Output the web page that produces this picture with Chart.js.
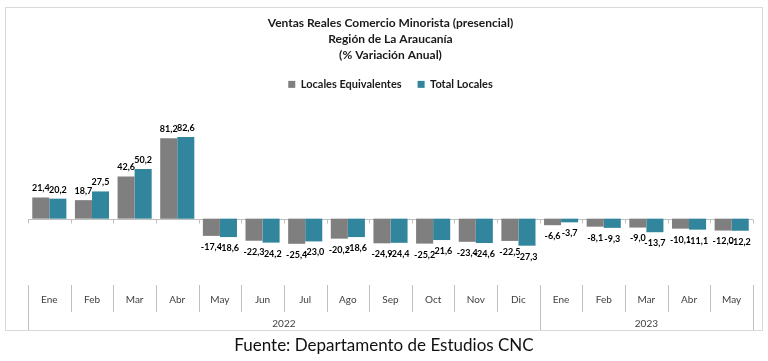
<!DOCTYPE html>
<html>
<head>
<meta charset="utf-8">
<script src="https://cdn.jsdelivr.net/npm/chart.js@4"></script>
<style>
  html,body{margin:0;padding:0;background:#fff;}
  #wrap{position:relative;width:768px;height:361px;overflow:hidden;}
  #box{position:absolute;left:5px;top:7px;width:756px;height:322px;border:1px solid #d9d9d9;}
  #c{position:absolute;left:0;top:0;}
  #src{position:absolute;left:0;top:334px;width:768px;text-align:center;font:17px Lato,"Open Sans",sans-serif;color:#111;}
</style>
</head>
<body>
<div id="wrap">
  <div id="box"></div>
  <canvas id="c" width="768" height="361"></canvas>
  <div id="src">Fuente: Departamento de Estudios CNC</div>
</div>
<script>
const meses = ["Ene","Feb","Mar","Abr","May","Jun","Jul","Ago","Sep","Oct","Nov","Dic","Ene","Feb","Mar","Abr","May"];
const anios = ["2022","2023"];
const mesesPorAnio = [12,5];
const localesEquiv = [21.4,18.7,42.6,81.2,-17.4,-22.3,-25.4,-20.2,-24.9,-25.2,-23.4,-22.5,-6.6,-8.1,-9.0,-10.1,-12.0];
const totalLocales = [20.2,27.5,50.2,82.6,-18.6,-24.2,-23.0,-18.6,-24.4,-21.6,-24.6,-27.3,-3.7,-9.3,-13.7,-11.1,-12.2];

const FONT = 'Lato, "Open Sans", sans-serif';
const fmt = v => v.toFixed(1).replace(".", ",");

// eje de categorías en dos niveles (mes / año) + línea del cero
const catAxis = {
  id: "catAxis",
  beforeDatasetsDraw(chart){
    const {ctx, scales:{x, y}} = chart;
    const y0 = Math.round(y.getPixelForValue(0)) + 0.5;
    const n = meses.length, w = (x.right - x.left) / n;
    ctx.save();
    ctx.strokeStyle = "#bfbfbf";
    ctx.lineWidth = 1;
    ctx.beginPath();
    ctx.moveTo(x.left, y0); ctx.lineTo(x.right, y0);
    for(let i=0;i<=n;i++){
      const bx = Math.round(x.left + i*w) + 0.5;
      ctx.moveTo(bx, y0); ctx.lineTo(bx, y0+4);
    }
    ctx.stroke();
    ctx.restore();
  },
  afterDraw(chart){
    const {ctx, scales:{x}} = chart;
    const n = meses.length, w = (x.right - x.left) / n;
    const top = 285;
    ctx.save();
    ctx.strokeStyle = "#bfbfbf";
    ctx.lineWidth = 1;
    ctx.beginPath();
    for(let i=0;i<=n;i++){
      const bx = Math.round(x.left + i*w) + 0.5;
      ctx.moveTo(bx, top); ctx.lineTo(bx, 312);
    }
    let acc = 0;
    const bounds = [0];
    mesesPorAnio.forEach(c => { acc += c; bounds.push(acc); });
    bounds.forEach(b => {
      const bx = Math.round(x.left + b*w) + 0.5;
      ctx.moveTo(bx, 312); ctx.lineTo(bx, 330);
    });
    ctx.stroke();
    ctx.fillStyle = "#404040";
    ctx.font = "10px " + FONT;
    ctx.textAlign = "center";
    ctx.textBaseline = "middle";
    meses.forEach((m,i) => ctx.fillText(m, x.getPixelForValue(i), 300));
    anios.forEach((a,k) => {
      const cx = x.left + (bounds[k] + bounds[k+1]) / 2 * w;
      ctx.fillText(a, cx, 324);
    });
    ctx.restore();
  }
};

const valueLabels = {
  id: "valueLabels",
  afterDatasetsDraw(chart){
    const {ctx} = chart;
    ctx.save();
    ctx.fillStyle = "#000";
    ctx.font = "bold 9px " + FONT;
    ctx.textAlign = "center";
    ctx.textBaseline = "middle";
    chart.data.datasets.forEach((ds, di) => {
      chart.getDatasetMeta(di).data.forEach((bar, i) => {
        const v = ds.data[i];
        const ty = v >= 0 ? bar.y - 9 : bar.y + 11;
        ctx.fillText(fmt(v), bar.x, ty);
      });
    });
    ctx.restore();
  }
};

new Chart(document.getElementById("c"), {
  type: "bar",
  data: {
    labels: meses,
    datasets: [
      {label:"Locales Equivalentes", data:localesEquiv, backgroundColor:"#7f7f7f", borderColor:"#ffffff", borderWidth:0},
      {label:"Total Locales", data:totalLocales, backgroundColor:"#31859c", borderColor:"#ffffff", borderWidth:0}
    ]
  },
  options: {
    responsive:false, animation:false,
    layout:{padding:{left:28, right:15, top:0, bottom:78}},
    datasets:{bar:{categoryPercentage:0.8, barPercentage:1.0}},
    scales:{
      x:{display:false, offset:true},
      y:{display:false, min:-65, max:120}
    },
    plugins:{
      title:{
        display:true,
        text:["Ventas Reales Comercio Minorista (presencial)","Región de La Araucanía","(% Variación Anual)"],
        color:"#1a1a1a",
        font:{family:FONT, size:12, weight:"bold", lineHeight:1.33},
        padding:{top:15, bottom:0}
      },
      legend:{
        display:true,
        labels:{boxWidth:7, boxHeight:7, padding:16, color:"#1a1a1a", font:{family:FONT, size:11, weight:"bold"}}
      },
      tooltip:{enabled:false}
    }
  },
  plugins:[catAxis, valueLabels]
});
</script>
</body>
</html>
